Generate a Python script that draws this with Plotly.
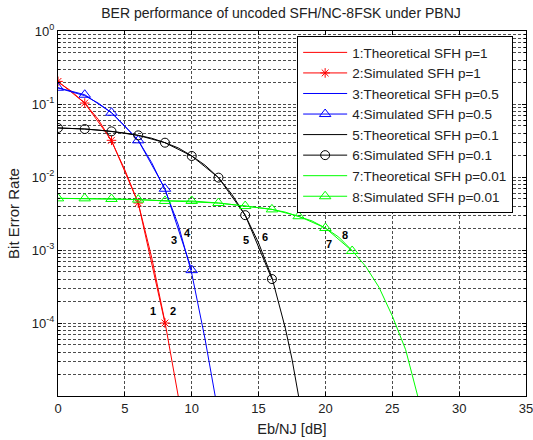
import math
import plotly.graph_objects as go

# ---------------- data ----------------
# Theoretical curves
th1_x = [0, 1, 2, 3, 4, 5, 6, 7, 8, 8.5, 9, 9.5]
th1_y = [0.2, 0.15, 0.102, 0.062, 0.031, 0.0125, 0.0044, 8.0e-4, 1.03e-4, 3.3e-5, 1.05e-5, 3.0e-6]

th3_x = [0, 1, 2, 3, 4, 5, 6, 7, 8, 9, 10, 11, 11.5, 11.8, 12.2]
th3_y = [0.166, 0.147, 0.130, 0.103, 0.076, 0.050, 0.0318, 0.0158, 0.0067, 0.0022, 4.8e-4, 6.0e-5, 1.8e-5, 9.0e-6, 2.5e-6]

th5_x = [0, 1, 2, 3, 4, 5, 6, 7, 8, 9, 10, 11, 12, 13, 14, 15, 16, 17, 17.5, 18, 18.5]
th5_y = [0.047, 0.0465, 0.0455, 0.044, 0.0422, 0.040, 0.0372, 0.034, 0.0295, 0.025, 0.0195, 0.0145,
         0.0098, 0.0058, 0.0030, 0.00125, 4.2e-4, 8.5e-5, 3.2e-5, 1.05e-5, 3.0e-6]

th7_x = [0, 2, 4, 6, 8, 10, 12, 14, 16, 17, 18, 19, 20, 21, 22, 23, 24, 25, 26, 26.5, 27, 27.5]
th7_y = [0.0051, 0.0051, 0.0050, 0.0049, 0.0047, 0.0046, 0.0044, 0.0040, 0.0036, 0.0033, 0.0029,
         0.0025, 0.0020, 0.0015, 9.8e-4, 6.0e-4, 3.1e-4, 1.25e-4, 4.3e-5, 2.0e-5, 8.5e-6, 2.5e-6]

# Simulated points
sim2_x = [0, 2, 4, 6, 8]
sim2_y = [0.204, 0.103, 0.0318, 0.0044, 1.0e-4]

sim4_x = [0, 2, 4, 6, 8, 10]
sim4_y = [0.167, 0.134, 0.076, 0.0318, 0.0069, 5.3e-4]

sim6_x = [0, 2, 4, 6, 8, 10, 12, 14, 16]
sim6_y = [0.0469, 0.0454, 0.0422, 0.0372, 0.0295, 0.0194, 0.0098, 0.0030, 4.0e-4]

sim8_x = [0, 2, 4, 6, 8, 10, 12, 14, 16, 18, 20, 22]
sim8_y = [0.0051, 0.0051, 0.0050, 0.0049, 0.0047, 0.0047, 0.0044, 0.0040, 0.0036, 0.0029, 0.0020, 9.7e-4]

names = ["1:Theoretical SFH p=1", "2:Simulated SFH p=1",
         "3:Theoretical SFH p=0.5", "4:Simulated SFH p=0.5",
         "5:Theoretical SFH p=0.1", "6:Simulated SFH p=0.1",
         "7:Theoretical SFH p=0.01", "8:Simulated SFH p=0.01"]

# curve number labels
lab_text = ["1", "2", "3", "4", "5", "6", "7", "8"]
lab_x = [7.1, 8.6, 8.65, 9.65, 14.05, 15.5, 20.25, 21.5]
lab_y = [1.46e-4, 1.46e-4, 1.36e-3, 1.71e-3, 1.36e-3, 1.5e-3, 1.2e-3, 1.6e-3]

x_ticks = [0, 5, 10, 15, 20, 25, 30, 35]
y_major = [1e0, 1e-1, 1e-2, 1e-3, 1e-4]
y_major_txt = ["10<sup>0</sup>", "10<sup>-1</sup>", "10<sup>-2</sup>", "10<sup>-3</sup>", "10<sup>-4</sup>"]
y_minor = [m * 10.0 ** e for e in range(-5, 0) for m in range(1, 10) if not (m == 1 and e > -5)]

# ---------------- figure ----------------
FONT = "Liberation Sans, Arial, Helvetica, sans-serif"
RED, BLUE, BLACK, GREEN = "#ff0000", "#0000ff", "#000000", "#00ff00"

fig = go.Figure()
fig.add_trace(go.Scatter(x=th1_x, y=th1_y, mode="lines", name=names[0],
                         line=dict(color=RED, width=1)))
fig.add_trace(go.Scatter(x=sim2_x, y=sim2_y, mode="lines+markers", name=names[1],
                         line=dict(color=RED, width=1),
                         marker=dict(symbol="asterisk-open", size=8, color=RED,
                                     line=dict(color=RED, width=1))))
fig.add_trace(go.Scatter(x=th3_x, y=th3_y, mode="lines", name=names[2],
                         line=dict(color=BLUE, width=1)))
fig.add_trace(go.Scatter(x=sim4_x, y=sim4_y, mode="lines+markers", name=names[3],
                         line=dict(color=BLUE, width=1),
                         marker=dict(symbol="triangle-up-open", size=10, color=BLUE,
                                     line=dict(color=BLUE, width=1))))
fig.add_trace(go.Scatter(x=th5_x, y=th5_y, mode="lines", name=names[4],
                         line=dict(color=BLACK, width=1)))
fig.add_trace(go.Scatter(x=sim6_x, y=sim6_y, mode="lines+markers", name=names[5],
                         line=dict(color=BLACK, width=1),
                         marker=dict(symbol="circle-open", size=9, color=BLACK,
                                     line=dict(color=BLACK, width=1))))
fig.add_trace(go.Scatter(x=th7_x, y=th7_y, mode="lines", name=names[6],
                         line=dict(color=GREEN, width=1)))
fig.add_trace(go.Scatter(x=sim8_x, y=sim8_y, mode="lines+markers", name=names[7],
                         line=dict(color=GREEN, width=1),
                         marker=dict(symbol="triangle-up-open", size=10, color=GREEN,
                                     line=dict(color=GREEN, width=1))))

for t, xv, yv in zip(lab_text, lab_x, lab_y):
    fig.add_annotation(x=xv, y=math.log10(yv), text="<b>%s</b>" % t,
                       showarrow=False, font=dict(family=FONT, size=11, color="#000"))

grid = dict(showgrid=True, gridcolor="#4d4d4d", griddash="3px,2px", gridwidth=1)

fig.update_layout(
    width=533, height=440,
    margin=dict(l=58, r=7, t=31, b=44),
    paper_bgcolor="white", plot_bgcolor="white",
    font=dict(family=FONT, size=12, color="#222"),
    title=dict(text="BER performance of uncoded SFH/NC-8FSK under PBNJ",
               x=281 / 533, xanchor="center", y=1 - 13 / 440, yanchor="middle",
               yref="container", font=dict(family=FONT, size=14, color="#222")),
    xaxis=dict(range=[0, 35], tickvals=x_ticks, ticktext=[str(v) for v in x_ticks],
               ticks="inside", ticklen=4, tickcolor="#000",
               showline=True, linecolor="#000", linewidth=1, mirror="ticks",
               zeroline=False, automargin=False, ticklabeloverflow="allow",
               title=dict(text="Eb/NJ [dB]", standoff=9, font=dict(size=14.5)),
               tickfont=dict(size=13), **grid),
    yaxis=dict(type="log", range=[-5, 0], tickvals=y_major, ticktext=y_major_txt,
               ticks="inside", ticklen=4, tickcolor="#000",
               showline=True, linecolor="#000", linewidth=1, mirror="ticks",
               zeroline=False, automargin=False,
               minor=dict(tickvals=y_minor, ticks="inside", ticklen=2, tickcolor="#000",
                          showgrid=True, gridcolor="#4d4d4d", griddash="3px,2px", gridwidth=1),
               title=dict(text="Bit Error Rate", standoff=8, font=dict(size=15)),
               tickfont=dict(size=13), **grid),
    legend=dict(x=0.511, y=0.986, xanchor="left", yanchor="top",
                bgcolor="white", bordercolor="#000", borderwidth=1,
                font=dict(family=FONT, size=13.5, color="#222"),
                tracegroupgap=0, itemwidth=44),
    showlegend=True,
)

fig.write_html("out.html", config={"displayModeBar": False},
               post_script="document.body.style.margin='0px';")
